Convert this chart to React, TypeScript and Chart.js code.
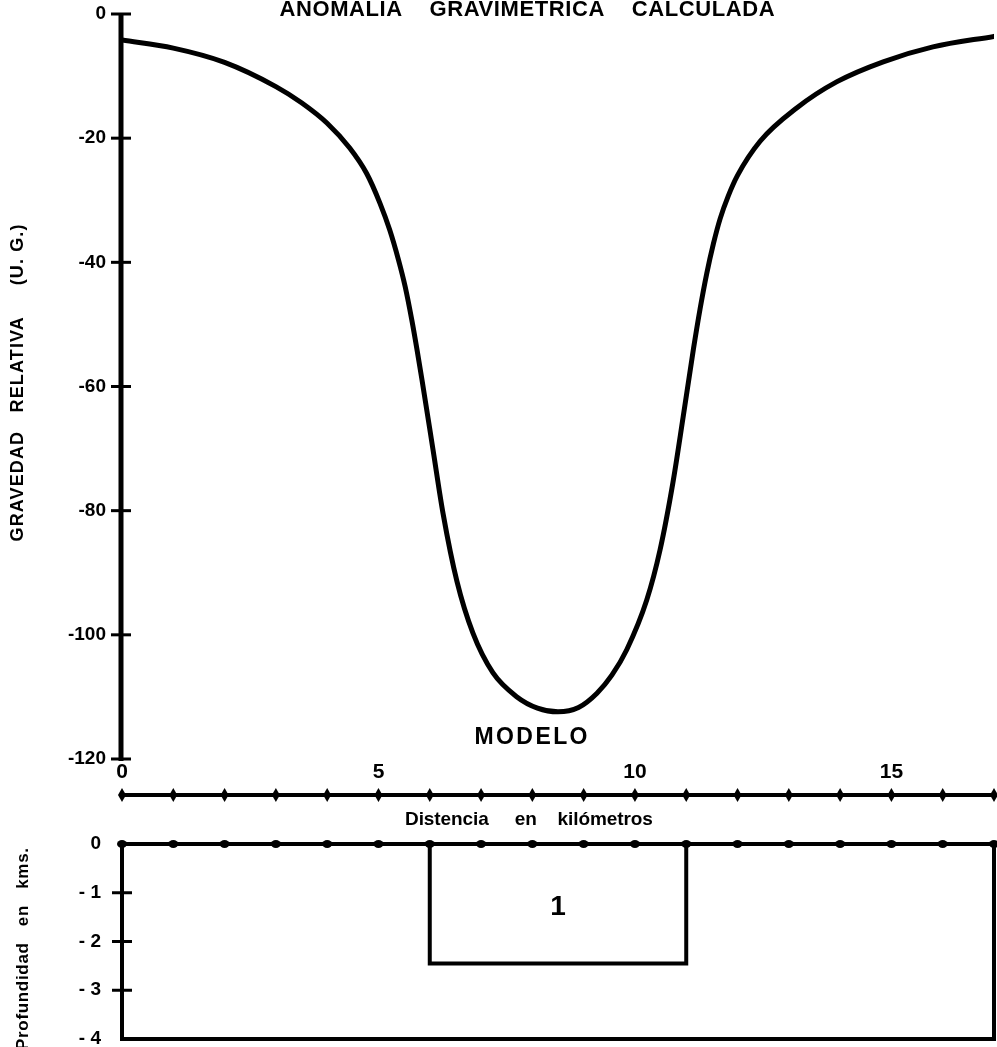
import { useEffect, useRef } from "react";
import { Chart, registerables } from "chart.js";

Chart.register(...registerables);

const FONT = '"Liberation Sans", Arial, sans-serif';
const INK = "#000000";

// Calculated gravity anomaly (U.G.) versus distance (km)
const GRAV_X = [0, 1, 2, 3, 3.5, 4, 4.44, 4.77, 5.03, 5.22, 5.39, 5.52, 5.65, 5.75, 5.85, 6.06, 6.26, 6.53, 6.84, 7.23, 7.7, 8.1, 8.5, 8.9, 9.26, 9.55, 9.84, 10.23, 10.49, 10.74, 10.94, 11.14, 11.27, 11.4, 11.53, 11.66, 11.82, 12, 12.44, 13.16, 13.94, 14.84, 15.81, 17];
const GRAV_Y = [-4.2, -5.5, -7.8, -11.7, -14.3, -17.6, -21.6, -25.7, -30.5, -34.8, -39.6, -43.9, -49.3, -54, -59, -70, -80.5, -91.4, -99.7, -106.1, -110, -111.8, -112.4, -111.7, -109.4, -106.5, -102.4, -94.4, -86.3, -75.5, -64.9, -54, -47.5, -41.8, -37, -33, -29.3, -26, -20.5, -15.1, -10.9, -7.7, -5.3, -3.6];

const GRAV_TICKS = [0, -20, -40, -60, -80, -100, -120];
const DIST_TICKS = [0, 1, 2, 3, 4, 5, 6, 7, 8, 9, 10, 11, 12, 13, 14, 15, 16, 17];
const DIST_LABELS = [0, 5, 10, 15];
const DEPTH_TICKS = [0, -1, -2, -3, -4];

// Model body outline (km, depth km)
const BODY_X = [6, 6, 11, 11];
const BODY_Y = [0, -2.45, -2.45, 0];
const BODY_NAME = "1";
const BODY_NAME_AT = [8.5, -1.3];

const TITLE = "ANOMALIA    GRAVIMETRICA    CALCULADA";
const Y_TITLE = "GRAVEDAD   RELATIVA     (U. G.)";
const X_TITLE = "Distencia     en    kilómetros";
const MODEL_TITLE = "MODELO";
const DEPTH_TITLE = "Profundidad   en   kms.";

function spacedText(
  ctx: CanvasRenderingContext2D,
  text: string,
  cx: number,
  cy: number,
  width: number,
  font: string,
  rotate = 0,
  baseline: CanvasTextBaseline = "middle"
) {
  ctx.save();
  ctx.font = font;
  ctx.fillStyle = INK;
  ctx.translate(cx, cy);
  ctx.rotate(rotate);
  (ctx as any).letterSpacing = "0px";
  const w0 = ctx.measureText(text).width;
  const n = text.length;
  const ls = n > 1 ? (width - w0) / (n - 1) : 0;
  (ctx as any).letterSpacing = ls.toFixed(2) + "px";
  ctx.textAlign = "left";
  ctx.textBaseline = baseline;
  ctx.fillText(text, -width / 2, 0);
  ctx.restore();
}

function fixBox(width?: number, height?: number) {
  return (s: any) => {
    if (width !== undefined) s.width = width;
    if (height !== undefined) s.height = height;
    s.paddingTop = 0;
    s.paddingBottom = 0;
    s.paddingLeft = 0;
    s.paddingRight = 0;
  };
}

const topDecor = {
  id: "topDecor",
  afterDraw(chart: any) {
    const { ctx, chartArea } = chart;
    const xs = chart.scales.x;
    const ys = chart.scales.y;
    ctx.save();
    ctx.strokeStyle = INK;
    ctx.fillStyle = INK;
    // y axis line
    ctx.lineWidth = 5;
    ctx.lineCap = "butt";
    const ax = chartArea.left - 1;
    ctx.beginPath();
    ctx.moveTo(ax, ys.getPixelForValue(0));
    ctx.lineTo(ax, ys.getPixelForValue(-120) + 2);
    ctx.stroke();
    // crossing ticks
    ctx.lineWidth = 3;
    GRAV_TICKS.forEach((v) => {
      const py = ys.getPixelForValue(v);
      ctx.beginPath();
      ctx.moveTo(ax - 10, py);
      ctx.lineTo(ax + 10, py);
      ctx.stroke();
    });
    // diamonds on distance axis
    const by = chartArea.bottom;
    DIST_TICKS.forEach((v) => {
      const px = xs.getPixelForValue(v);
      ctx.beginPath();
      ctx.moveTo(px, by - 7);
      ctx.lineTo(px + 4, by);
      ctx.lineTo(px, by + 7);
      ctx.lineTo(px - 4, by);
      ctx.closePath();
      ctx.fill();
    });
    ctx.restore();

    spacedText(ctx, TITLE, 527, 15.5, 495, `bold 22px ${FONT}`, 0, "alphabetic");
    spacedText(ctx, Y_TITLE, 18, 383, 317, `bold 18px ${FONT}`, -Math.PI / 2);
    spacedText(ctx, X_TITLE, 529, 820, 248, `bold 19px ${FONT}`);
    spacedText(ctx, MODEL_TITLE, 531, 738, 113, `bold 23px ${FONT}`);
  },
};

const bottomDecor = {
  id: "bottomDecor",
  afterDraw(chart: any) {
    const { ctx, chartArea } = chart;
    const xs = chart.scales.x;
    const ys = chart.scales.y;
    ctx.save();
    ctx.strokeStyle = INK;
    ctx.fillStyle = INK;
    ctx.lineWidth = 4;
    ctx.strokeRect(chartArea.left, chartArea.top, chartArea.right - chartArea.left, chartArea.bottom - chartArea.top);
    // dots along the surface
    DIST_TICKS.forEach((v) => {
      const px = xs.getPixelForValue(v);
      ctx.beginPath();
      ctx.ellipse(px, chartArea.top, 5, 4, 0, 0, Math.PI * 2);
      ctx.fill();
    });
    // crossing ticks on depth axis
    ctx.lineWidth = 3;
    DEPTH_TICKS.filter((v) => v < 0 && v > -4).forEach((v) => {
      const py = ys.getPixelForValue(v);
      ctx.beginPath();
      ctx.moveTo(chartArea.left - 10, py);
      ctx.lineTo(chartArea.left + 10, py);
      ctx.stroke();
    });
    // body number
    ctx.font = `bold 28px ${FONT}`;
    ctx.textAlign = "center";
    ctx.textBaseline = "middle";
    ctx.fillText(BODY_NAME, xs.getPixelForValue(BODY_NAME_AT[0]), ys.getPixelForValue(BODY_NAME_AT[1]));
    ctx.restore();

    spacedText(ctx, DEPTH_TITLE, 23, 119, 202, `bold 17px ${FONT}`, -Math.PI / 2);
  },
};

export default function App() {
  const topRef = useRef<HTMLCanvasElement | null>(null);
  const botRef = useRef<HTMLCanvasElement | null>(null);

  useEffect(() => {
    if (!topRef.current || !botRef.current) return;
    const tickFont = { family: FONT, size: 19, weight: "bold" as const };

    const top = new Chart(topRef.current, {
      type: "line",
      data: {
        datasets: [
          {
            data: GRAV_X.map((x, i) => ({ x, y: GRAV_Y[i] })),
            borderColor: INK,
            borderWidth: 5,
            pointRadius: 0,
            fill: false,
            cubicInterpolationMode: "monotone",
            borderCapStyle: "round",
          },
        ],
      },
      options: {
        responsive: false,
        animation: false,
        events: [],
        layout: { padding: { top: 14, right: 3, left: 0, bottom: 0 } },
        plugins: { legend: { display: false }, title: { display: false }, tooltip: { enabled: false } },
        scales: {
          x: {
            type: "linear",
            min: 0,
            max: 17,
            position: "bottom",
            afterBuildTicks: (s: any) => {
              s.ticks = DIST_TICKS.map((v) => ({ value: v }));
            },
            afterFit: fixBox(undefined, 45),
            grid: { display: false, drawTicks: false },
            border: { display: true, color: INK, width: 4 },
            ticks: {
              mirror: true,
              padding: 10,
              autoSkip: false,
              maxRotation: 0,
              color: INK,
              font: { family: FONT, size: 21, weight: "bold" },
              callback: (v: any) => (DIST_LABELS.includes(Number(v)) ? String(v) : ""),
            },
          },
          y: {
            type: "linear",
            min: -125.8,
            max: 0,
            afterBuildTicks: (s: any) => {
              s.ticks = GRAV_TICKS.map((v) => ({ value: v }));
            },
            afterFit: fixBox(122, undefined),
            grid: { display: false, drawTicks: false },
            border: { display: false },
            ticks: { padding: 16, color: INK, font: tickFont, callback: (v: any) => String(v) },
          },
        },
      } as any,
      plugins: [topDecor],
    });

    const bottom = new Chart(botRef.current, {
      type: "line",
      data: {
        datasets: [
          {
            data: BODY_X.map((x, i) => ({ x, y: BODY_Y[i] })),
            borderColor: INK,
            borderWidth: 4,
            pointRadius: 0,
            fill: false,
            tension: 0,
            borderJoinStyle: "miter",
          },
        ],
      },
      options: {
        responsive: false,
        animation: false,
        events: [],
        layout: { padding: { top: 14, right: 3, left: 0, bottom: 8 } },
        plugins: { legend: { display: false }, title: { display: false }, tooltip: { enabled: false } },
        scales: {
          x: { type: "linear", min: 0, max: 17, display: false },
          y: {
            type: "linear",
            min: -4,
            max: 0,
            afterBuildTicks: (s: any) => {
              s.ticks = DEPTH_TICKS.map((v) => ({ value: v }));
            },
            afterFit: fixBox(122, undefined),
            grid: { display: false, drawTicks: false },
            border: { display: false },
            ticks: {
              padding: 21,
              color: INK,
              font: tickFont,
              callback: (v: any) => (Number(v) === 0 ? "0" : "- " + Math.abs(Number(v))),
            },
          },
        },
      } as any,
      plugins: [bottomDecor],
    });

    return () => {
      top.destroy();
      bottom.destroy();
    };
  }, []);

  return (
    <div style={{ position: "absolute", left: 0, top: 0, width: 997, height: 1047, background: "#ffffff", overflow: "hidden" }}>
      <canvas ref={topRef} width={997} height={840} style={{ position: "absolute", left: 0, top: 0, display: "block" }} />
      <canvas ref={botRef} width={997} height={217} style={{ position: "absolute", left: 0, top: 830, display: "block" }} />
    </div>
  );
}
